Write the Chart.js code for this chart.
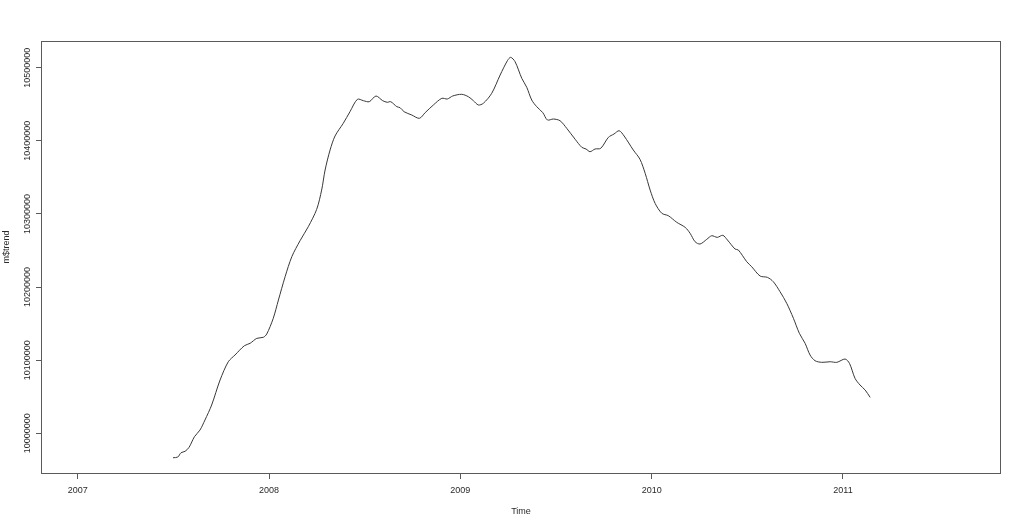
<!DOCTYPE html>
<html>
<head>
<meta charset="utf-8">
<script src="https://cdn.jsdelivr.net/npm/chart.js@4.4.1/dist/chart.umd.min.js"></script>
<style>
  html, body { margin: 0; padding: 0; background: #ffffff; }
  #wrap { width: 1023px; height: 526px; }
</style>
</head>
<body>
<div id="wrap"><canvas id="c" width="1023" height="526"></canvas></div>
<script>
// Time (decimal years) of each trend observation
const timeValues = [
  2007.498, 2007.523, 2007.540, 2007.561, 2007.582, 2007.610, 2007.639, 2007.665, 2007.700, 2007.744,
  2007.787, 2007.822, 2007.871, 2007.901, 2007.936, 2007.970, 2007.988, 2008.022, 2008.049, 2008.084,
  2008.119, 2008.162, 2008.205, 2008.249, 2008.275, 2008.293, 2008.319, 2008.345, 2008.388, 2008.423,
  2008.462, 2008.493, 2008.524, 2008.559, 2008.594, 2008.618, 2008.636, 2008.668, 2008.685, 2008.706,
  2008.746, 2008.786, 2008.816, 2008.859, 2008.903, 2008.932, 2008.960, 2009.007, 2009.042, 2009.068,
  2009.094, 2009.120, 2009.164, 2009.208, 2009.246, 2009.263, 2009.286, 2009.321, 2009.347, 2009.373,
  2009.399, 2009.431, 2009.455, 2009.486, 2009.521, 2009.556, 2009.600, 2009.635, 2009.657, 2009.678,
  2009.704, 2009.734, 2009.774, 2009.803, 2009.830, 2009.856, 2009.904, 2009.939, 2009.966, 2009.992,
  2010.018, 2010.053, 2010.087, 2010.131, 2010.175, 2010.201, 2010.227, 2010.253, 2010.288, 2010.314,
  2010.343, 2010.372, 2010.396, 2010.436, 2010.453, 2010.497, 2010.523, 2010.567, 2010.605, 2010.636,
  2010.671, 2010.706, 2010.741, 2010.772, 2010.802, 2010.828, 2010.854, 2010.889, 2010.933, 2010.968,
  2011.011, 2011.034, 2011.063, 2011.089, 2011.116, 2011.142
];
// m$trend values
const trendValues = [
  9966600, 9967600, 9973500, 9975400, 9980900, 9995350, 10004500, 10018200, 10038700, 10072900,
  10097900, 10107100, 10119800, 10123100, 10129900, 10131300, 10135800, 10157300, 10182300, 10214200,
  10241500, 10263400, 10282500, 10306300, 10332700, 10360100, 10387400, 10406600, 10424000, 10439800,
  10456800, 10454900, 10453500, 10461300, 10454900, 10452700, 10453500, 10446700, 10445300, 10439800,
  10435300, 10430800, 10438500, 10449000, 10458100, 10457200, 10461300, 10463600, 10460300, 10454900,
  10449000, 10451300, 10465000, 10490000, 10509600, 10514200, 10508200, 10485500, 10473200, 10455800,
  10446700, 10438500, 10428500, 10429800, 10427500, 10417100, 10402100, 10391100, 10388800, 10385100,
  10388800, 10389800, 10404800, 10409300, 10413800, 10406600, 10387400, 10374700, 10355600, 10332700,
  10314500, 10300900, 10297600, 10288600, 10281700, 10273500, 10262000, 10258900, 10265300, 10270200,
  10268000, 10270800, 10264400, 10252000, 10250700, 10234700, 10227800, 10215100, 10213300, 10207300,
  10193700, 10177800, 10157300, 10136800, 10123100, 10107100, 10099300, 10097100, 10097900, 10097100,
  10101600, 10095700, 10075200, 10066100, 10059200, 10049200
];
const xTickYears = [2007, 2008, 2009, 2010, 2011];
const yTickValues = [10000000, 10100000, 10200000, 10300000, 10400000, 10500000];
const xLabel = "Time";
const yLabel = "m$trend";

const FONT = "'Liberation Sans', Arial, sans-serif";
const TEXT = "#2a2a2a";
const LINE = "#5a5a5a";

const points = timeValues.map((t, i) => ({ x: t, y: trendValues[i] }));

const rStyle = {
  id: 'rStyle',
  afterDraw(chart) {
    const { ctx, chartArea: a, scales } = chart;
    ctx.save();
    // plot box
    ctx.strokeStyle = LINE;
    ctx.lineWidth = 1;
    ctx.strokeRect(Math.round(a.left) + 0.5, Math.round(a.top) + 0.5,
                   Math.round(a.right - a.left) - 1, Math.round(a.bottom - a.top) - 1);
    // y tick labels, rotated parallel to axis
    ctx.fillStyle = TEXT;
    ctx.font = "9px " + FONT;
    ctx.textAlign = "center";
    ctx.textBaseline = "middle";
    const ys = scales.y;
    yTickValues.forEach(v => {
      const py = ys.getPixelForValue(v);
      ctx.save();
      ctx.translate(28, py);
      ctx.rotate(-Math.PI / 2);
      ctx.fillText(String(v), 0, 0);
      ctx.restore();
    });
    // y axis title
    ctx.save();
    ctx.translate(7, 247);
    ctx.rotate(-Math.PI / 2);
    ctx.fillText(yLabel, 0, 0);
    ctx.restore();
    ctx.restore();
  }
};

new Chart(document.getElementById('c'), {
  type: 'line',
  data: {
    datasets: [{
      data: points,
      borderColor: '#383838',
      borderWidth: 1,
      pointRadius: 0,
      fill: false,
      tension: 0.3
    }]
  },
  options: {
    responsive: false,
    animation: false,
    devicePixelRatio: 1,
    layout: { padding: { left: 0, top: 41, right: 22, bottom: 0 } },
    plugins: { legend: { display: false }, tooltip: { enabled: false } },
    scales: {
      x: {
        type: 'linear',
        min: 2006.808,
        max: 2011.826,
        afterBuildTicks: s => { s.ticks = xTickYears.map(v => ({ value: v })); },
        afterFit: s => { s.height = 52; },
        border: { display: false },
        grid: { drawOnChartArea: false, drawTicks: true, tickLength: 5, color: LINE },
        ticks: {
          color: TEXT,
          font: { family: FONT, size: 9 },
          padding: 6,
          maxRotation: 0,
          autoSkip: false,
          callback: v => String(v)
        },
        title: {
          display: true,
          text: xLabel,
          color: TEXT,
          font: { family: FONT, size: 9 },
          padding: { top: 0, bottom: 9 }
        }
      },
      y: {
        type: 'linear',
        min: 9944400,
        max: 10536500,
        afterBuildTicks: s => { s.ticks = yTickValues.map(v => ({ value: v })); },
        afterFit: s => { s.width = 41; },
        border: { display: false },
        grid: { drawOnChartArea: false, drawTicks: true, tickLength: 5, color: LINE },
        ticks: { display: false }
      }
    }
  },
  plugins: [rStyle]
});
</script>
</body>
</html>
